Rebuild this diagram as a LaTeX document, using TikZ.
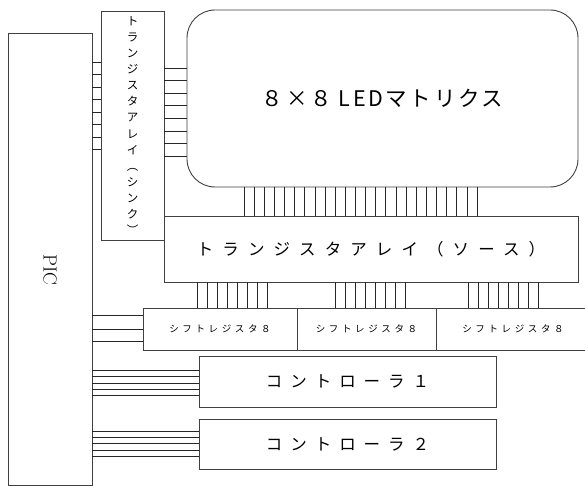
\documentclass[tikz,border=0pt]{standalone}
\usepackage{fontspec}
\newfontfamily\jp{Noto Sans CJK JP}
\newfontfamily\jpled[LetterSpace=12]{Noto Sans CJK JP}
\newfontfamily\jpsp[LetterSpace=55]{Noto Sans CJK JP}
\newfontfamily\jpctl[LetterSpace=48]{Noto Sans CJK JP}
\newfontfamily\jpsm[LetterSpace=38]{Noto Sans CJK JP}
\begin{document}
\begin{tikzpicture}[x=1pt,y=-1pt,
  box/.style={draw=black!75,line width=0.9pt,fill=white,inner sep=0pt,rectangle},
  wire/.style={draw=black!85,line width=0.7pt}]
\clip (0,0) rectangle (585,486);
\fill[white] (0,0) rectangle (585,486);
% boxes
\node[box,minimum width=84pt,minimum height=452pt] (pic) at (50,259) {};
\node[font=\fontsize{19}{22}\selectfont,rotate=-90] (piclab) at (50,270) {PIC};
\node[box,minimum width=63pt,minimum height=229pt,align=center,
  font={\jp\fontsize{11.5}{16.1}\selectfont}] (sink) at (132.5,125.5)
  {ト\\ラ\\ン\\ジ\\ス\\タ\\ア\\レ\\イ\\︵\\シ\\ン\\ク\\︶};
\node[box,rounded corners=28pt,minimum width=391pt,minimum height=177pt,
  font={\jpled\fontsize{21.5}{24}\selectfont}] (led) at (382.5,98.5) {８×８\ LEDマトリクス};
\node[box,minimum width=414pt,minimum height=66pt,
  font={\jpsp\fontsize{16.5}{20}\selectfont}] (src) at (371,249) {トランジスタアレイ（ソース）};
\node[box,minimum width=154pt,minimum height=42pt,
  font={\jpsm\fontsize{9.5}{12}\selectfont}] (sr1) at (220,329) {シフトレジスタ８};
\node[box,minimum width=139pt,minimum height=42pt,
  font={\jpsm\fontsize{9.5}{12}\selectfont}] (sr2) at (366.5,329) {シフトレジスタ８};
\node[box,minimum width=154pt,minimum height=42pt,
  font={\jpsm\fontsize{9.5}{12}\selectfont}] (sr3) at (513,329) {シフトレジスタ８};
\node[box,minimum width=297pt,minimum height=51pt,
  font={\jpctl\fontsize{16.5}{20}\selectfont}] (c1) at (347.5,381.5) {コントローラ１};
\node[box,minimum width=297pt,minimum height=50pt,
  font={\jpctl\fontsize{16.5}{20}\selectfont}] (c2) at (347.5,444) {コントローラ２};
% wires PIC -> sink
\foreach \y in {62,74.5,87,99.5,112,124.5,137,149.5}
  \draw[wire] (pic.east |- 0,\y) -- (sink.west |- 0,\y);
% wires sink -> LED
\foreach \y in {68,80.6,93.2,105.8,118.4,131,143.6,156.2}
  \draw[wire] (sink.east |- 0,\y) -- (led.west |- 0,\y);
% wires LED -> source (24)
\foreach \i in {0,...,23}
  \draw[wire] (led.south -| 244+\i*10.13,0) -- (src.north -| 244+\i*10.13,0);
% wires source -> shift registers
\foreach \i in {0,...,7}{
  \draw[wire] (src.south -| 197+\i*10,0) -- (sr1.north -| 197+\i*10,0);
  \draw[wire] (src.south -| 335+\i*10.1,0) -- (sr2.north -| 335+\i*10.1,0);
  \draw[wire] (src.south -| 468+\i*10.1,0) -- (sr3.north -| 468+\i*10.1,0);
}
% PIC -> shift register 1
\foreach \y in {315,329,341}
  \draw[wire] (pic.east |- 0,\y) -- (sr1.west |- 0,\y);
% PIC -> controllers
\foreach \y in {370,376.5,383,389,395}
  \draw[wire] (pic.east |- 0,\y) -- (c1.west |- 0,\y);
\foreach \y in {431.5,437.5,443.5,450,456}
  \draw[wire] (pic.east |- 0,\y) -- (c2.west |- 0,\y);
\end{tikzpicture}
\end{document}
